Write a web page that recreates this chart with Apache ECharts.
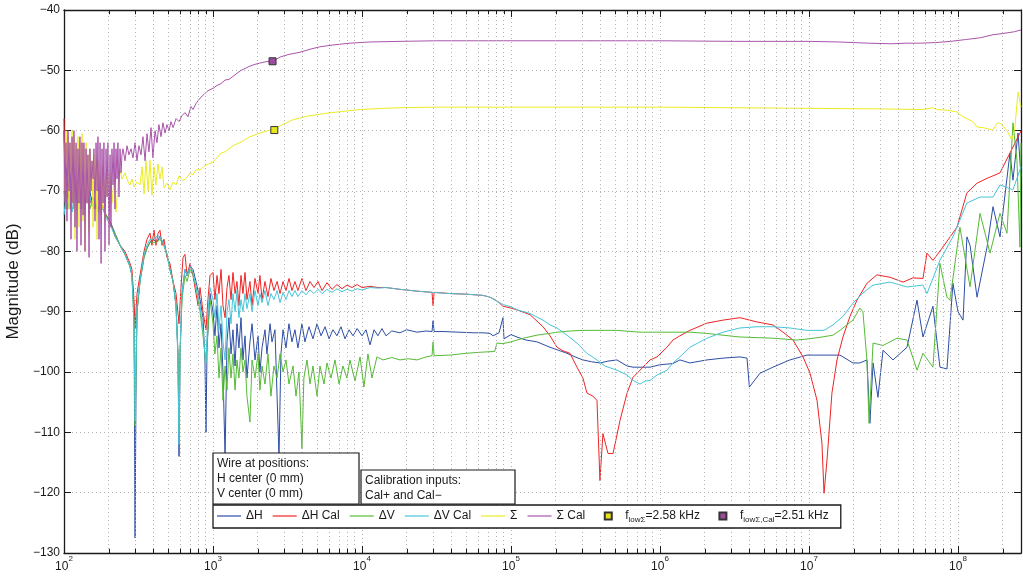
<!DOCTYPE html>
<html><head><meta charset="utf-8">
<script src="https://cdn.jsdelivr.net/npm/echarts@6/dist/echarts.min.js"></script>
<style>html,body{margin:0;padding:0;background:#fff}#c{width:1023px;height:577px}</style>
</head><body><div id="c"></div>
<script>
// x values are log10(frequency / Hz); y values are magnitude in dB
const xRange = [2, 8.423];
const yRange = [-130, -40];
const seriesNames = ['ΔH', 'ΔH Cal', 'ΔV', 'ΔV Cal', 'Σ', 'Σ Cal'];
const seriesColors = ['#2d4ea6', '#ee2424', '#55bb35', '#45c5da', '#ecec24', '#aa55aa'];

const dH = [[2.000,-60],[2.007,-68],[2.013,-66],[2.027,-70],[2.040,-67],[2.054,-72],[2.067,-69],[2.081,-71],[2.094,-68],[2.107,-72],[2.121,-70],[2.134,-73],[2.148,-70],[2.161,-72],[2.174,-70],[2.188,-72],[2.201,-71],[2.215,-73],[2.228,-71],[2.242,-72],[2.262,-72.5],[2.282,-74],[2.309,-75],[2.342,-77],[2.376,-79],[2.409,-80.5],[2.443,-82.5],[2.456,-84],[2.470,-90],[2.477,-127.5],[2.484,-100],[2.490,-90],[2.510,-85],[2.537,-81],[2.557,-79.5],[2.577,-78.5],[2.597,-78],[2.624,-78.5],[2.644,-77.5],[2.671,-79],[2.691,-80.5],[2.711,-83],[2.732,-85],[2.752,-89],[2.765,-97],[2.772,-114],[2.779,-97],[2.792,-87],[2.812,-83],[2.826,-84],[2.846,-82.5],[2.866,-83],[2.886,-85],[2.913,-88],[2.933,-91],[2.946,-98],[2.953,-110],[2.960,-96],[2.980,-87],[3.000,-90],[3.013,-94],[3.027,-89],[3.040,-96],[3.054,-92],[3.067,-100],[3.081,-114],[3.094,-95],[3.107,-91],[3.121,-97],[3.134,-93],[3.148,-99],[3.161,-92],[3.174,-96],[3.188,-91],[3.201,-98],[3.215,-94],[3.228,-101],[3.248,-95],[3.262,-92],[3.282,-98],[3.302,-94],[3.315,-100],[3.329,-96],[3.349,-93],[3.362,-97],[3.383,-92],[3.396,-95],[3.416,-93],[3.430,-104],[3.443,-114],[3.456,-97],[3.470,-93],[3.490,-96],[3.510,-92],[3.530,-95],[3.550,-93],[3.570,-96],[3.597,-92],[3.617,-95],[3.644,-92.5],[3.671,-94.5],[3.698,-92],[3.725,-94],[3.752,-92.5],[3.779,-94.5],[3.805,-93],[3.832,-94],[3.859,-92.5],[3.886,-94.5],[3.913,-93],[3.940,-94],[3.967,-92.8],[4.000,-94],[4.027,-93],[4.054,-95.5],[4.081,-93],[4.107,-94],[4.134,-92.8],[4.161,-94],[4.200,-93.2],[4.255,-93.5],[4.300,-93],[4.369,-93.4],[4.430,-93.2],[4.470,-93.3],[4.477,-91.5],[4.484,-93.3],[4.550,-93.3],[4.650,-93.4],[4.750,-93.5],[4.812,-93.5],[4.859,-93.6],[4.880,-94],[4.920,-93.5],[4.946,-91],[4.953,-94.5],[5.000,-93.8],[5.040,-94.2],[5.100,-94.7],[5.174,-95],[5.262,-95.9],[5.330,-96.5],[5.376,-96.9],[5.430,-97.5],[5.483,-98],[5.540,-98.3],[5.597,-98.5],[5.650,-98.2],[5.711,-98],[5.779,-99],[5.819,-99.2],[5.900,-99.2],[5.933,-99.2],[6.000,-98.8],[6.087,-98.6],[6.134,-98],[6.201,-98.5],[6.315,-98],[6.423,-97.7],[6.537,-97.5],[6.584,-97.7],[6.600,-102.5],[6.671,-100.2],[6.758,-99.2],[6.872,-98],[6.987,-97.2],[7.101,-97.2],[7.208,-97.2],[7.295,-98.5],[7.342,-98.5],[7.389,-98],[7.409,-108.5],[7.430,-98.5],[7.463,-104.2],[7.497,-96.4],[7.564,-98],[7.658,-95.9],[7.725,-88.1],[7.765,-94.2],[7.832,-89.1],[7.879,-99.2],[7.926,-99.5],[7.966,-85.3],[8.000,-90],[8.034,-91.4],[8.060,-77.6],[8.081,-79],[8.128,-87.6],[8.195,-79.3],[8.235,-72.6],[8.282,-77.6],[8.349,-63.7],[8.369,-68.2],[8.403,-60.4],[8.423,-67.5]];

const dHCal = [[2.000,-58],[2.007,-69],[2.013,-72],[2.027,-70],[2.040,-73],[2.054,-70],[2.067,-71],[2.081,-69],[2.094,-72],[2.107,-70],[2.121,-73],[2.134,-71],[2.148,-72],[2.161,-70],[2.174,-72],[2.188,-71],[2.201,-73],[2.215,-72],[2.228,-73],[2.242,-72],[2.262,-73],[2.282,-74],[2.309,-75],[2.342,-77.5],[2.376,-79],[2.409,-80],[2.443,-82],[2.456,-83],[2.470,-88],[2.477,-92.7],[2.490,-87],[2.510,-84],[2.537,-80],[2.557,-78],[2.577,-77],[2.590,-79],[2.604,-76.5],[2.617,-79],[2.631,-77],[2.644,-76.5],[2.658,-79],[2.671,-78],[2.691,-81],[2.711,-82],[2.732,-85],[2.752,-87],[2.772,-92],[2.785,-86],[2.799,-81],[2.812,-80.5],[2.826,-84],[2.846,-82],[2.866,-84],[2.886,-87],[2.900,-89],[2.913,-86],[2.933,-90],[2.953,-93],[2.966,-88],[2.980,-84],[3.000,-83.5],[3.013,-88],[3.027,-84],[3.040,-87],[3.054,-83],[3.067,-89],[3.081,-91],[3.094,-86],[3.107,-84],[3.121,-88],[3.134,-83.5],[3.148,-87],[3.161,-85],[3.174,-89],[3.188,-84],[3.201,-87],[3.215,-83.5],[3.228,-88],[3.248,-85],[3.262,-89],[3.282,-84.5],[3.302,-87],[3.315,-84],[3.329,-88],[3.349,-85],[3.369,-87.5],[3.389,-84.5],[3.409,-86.5],[3.430,-85],[3.450,-87],[3.470,-85],[3.490,-86.5],[3.510,-84.5],[3.530,-86.5],[3.550,-85],[3.570,-86.5],[3.597,-84.5],[3.624,-86.5],[3.651,-85],[3.678,-86],[3.705,-85],[3.732,-86.5],[3.765,-85.2],[3.799,-86.3],[3.832,-85.5],[3.866,-86.2],[3.899,-85.6],[3.933,-86],[3.967,-85.5],[4.000,-86],[4.054,-85.8],[4.107,-86],[4.161,-86],[4.255,-86.3],[4.369,-86.6],[4.470,-86.8],[4.477,-89],[4.484,-86.8],[4.591,-87],[4.698,-87.1],[4.812,-87.3],[4.859,-87.6],[4.906,-88.2],[4.946,-89.1],[5.000,-89.4],[5.040,-89.7],[5.128,-90.5],[5.215,-92.5],[5.262,-94],[5.309,-95.9],[5.350,-96.5],[5.396,-96.9],[5.443,-99.2],[5.483,-101],[5.510,-103.5],[5.550,-104],[5.577,-104.7],[5.597,-118],[5.617,-110.2],[5.651,-113.5],[5.685,-113.5],[5.732,-108],[5.779,-103.5],[5.819,-100.9],[5.866,-99.7],[5.933,-98],[5.980,-97.5],[6.047,-95.9],[6.087,-94.7],[6.134,-94],[6.201,-93.1],[6.315,-91.9],[6.423,-91.4],[6.537,-91],[6.651,-91.7],[6.758,-92.2],[6.826,-93.4],[6.893,-94.7],[6.960,-97.5],[7.007,-100.2],[7.054,-104.7],[7.087,-111.8],[7.101,-120.1],[7.121,-114.6],[7.154,-103.5],[7.188,-98],[7.228,-94.2],[7.275,-90.8],[7.322,-88.1],[7.389,-85.3],[7.456,-83.9],[7.544,-84.3],[7.631,-85.1],[7.698,-84.4],[7.765,-84.5],[7.792,-80.3],[7.832,-81.5],[7.899,-79.3],[7.993,-76],[8.060,-70.3],[8.128,-68.7],[8.195,-67.9],[8.282,-67],[8.349,-63.7],[8.416,-60.4],[8.423,-60]];

const dV = [[2.000,-70],[2.013,-73],[2.027,-69],[2.040,-72],[2.054,-70],[2.067,-73],[2.081,-71],[2.094,-72],[2.107,-70],[2.121,-73],[2.134,-71],[2.148,-72],[2.161,-71],[2.174,-73],[2.188,-71.5],[2.201,-72.5],[2.215,-72],[2.228,-73.5],[2.242,-72.5],[2.262,-73],[2.282,-74],[2.309,-75.5],[2.342,-77],[2.376,-79],[2.409,-80.5],[2.443,-82.5],[2.456,-84],[2.470,-92],[2.477,-109],[2.490,-90],[2.510,-85],[2.537,-81],[2.557,-79.5],[2.577,-78.5],[2.597,-78.5],[2.624,-78.5],[2.644,-78],[2.671,-79],[2.691,-80.5],[2.711,-83],[2.732,-85],[2.752,-89],[2.765,-97],[2.772,-110],[2.779,-97],[2.792,-88],[2.812,-84],[2.826,-85],[2.846,-83],[2.866,-84],[2.886,-86],[2.913,-90],[2.933,-94],[2.953,-98.5],[2.966,-93],[2.980,-88],[3.000,-92],[3.013,-97],[3.027,-94],[3.040,-101],[3.054,-96],[3.067,-104.7],[3.081,-99],[3.094,-103],[3.107,-96],[3.121,-101],[3.134,-97],[3.148,-103],[3.161,-98],[3.174,-101],[3.188,-96],[3.201,-100],[3.215,-98],[3.228,-104],[3.248,-108.3],[3.262,-98],[3.282,-101],[3.302,-97],[3.315,-103],[3.329,-99],[3.349,-102],[3.369,-97],[3.389,-104],[3.409,-99],[3.430,-101],[3.450,-97],[3.470,-100],[3.490,-98],[3.510,-102],[3.537,-99],[3.557,-104],[3.577,-100],[3.590,-108],[3.597,-112.7],[3.610,-101],[3.631,-98],[3.651,-102],[3.671,-99],[3.698,-104],[3.718,-99],[3.745,-102],[3.765,-98.5],[3.792,-101],[3.819,-98],[3.846,-102],[3.872,-99],[3.899,-101],[3.919,-98],[3.953,-101.5],[3.987,-97.5],[4.013,-102.5],[4.040,-97],[4.067,-101],[4.100,-97.5],[4.141,-98],[4.200,-97.6],[4.255,-98],[4.310,-97.8],[4.369,-98],[4.430,-97.5],[4.470,-97.3],[4.477,-95],[4.484,-97.3],[4.591,-97.2],[4.698,-96.9],[4.812,-96.7],[4.890,-96.6],[4.906,-95.2],[4.946,-95.3],[5.000,-95],[5.040,-94.7],[5.100,-94.3],[5.174,-93.9],[5.262,-93.6],[5.309,-93.4],[5.400,-93.2],[5.483,-93.1],[5.597,-93.1],[5.711,-93.1],[5.866,-93.4],[6.000,-93.4],[6.134,-93.4],[6.201,-93.4],[6.315,-93.6],[6.423,-93.9],[6.537,-94.2],[6.651,-94.3],[6.758,-94.4],[6.919,-94.7],[7.000,-94.5],[7.087,-94.2],[7.161,-93.9],[7.208,-93.1],[7.295,-91.4],[7.342,-89.4],[7.362,-90],[7.389,-98],[7.403,-108.5],[7.430,-95.2],[7.497,-95.6],[7.591,-94.4],[7.658,-94.7],[7.725,-99.7],[7.765,-96.9],[7.832,-99.2],[7.879,-82],[7.926,-87.6],[7.946,-88.1],[8.013,-76],[8.081,-85.9],[8.148,-73.7],[8.215,-80.3],[8.282,-73.7],[8.329,-77],[8.369,-58.7],[8.396,-64.9],[8.416,-79.3],[8.423,-62]];

const dVCal = [[2.000,-74],[2.013,-71],[2.027,-73],[2.040,-70],[2.054,-73.5],[2.067,-71],[2.081,-72],[2.094,-70.5],[2.107,-73],[2.121,-71],[2.134,-72.5],[2.148,-71],[2.161,-72],[2.174,-71],[2.188,-72.5],[2.201,-72],[2.215,-73],[2.228,-72.5],[2.242,-73],[2.262,-73],[2.282,-74.5],[2.309,-75.5],[2.342,-77.5],[2.376,-79],[2.409,-80.5],[2.443,-82.5],[2.456,-84],[2.470,-92],[2.477,-108],[2.490,-89],[2.510,-85],[2.537,-80.5],[2.557,-79],[2.577,-78],[2.597,-78],[2.624,-77.5],[2.644,-77.5],[2.671,-79],[2.691,-80.5],[2.711,-83],[2.732,-85],[2.752,-89],[2.765,-98],[2.772,-112],[2.779,-96],[2.792,-87],[2.812,-83],[2.826,-84],[2.846,-82.5],[2.866,-83.5],[2.886,-86],[2.913,-89],[2.933,-93],[2.946,-97],[2.953,-98.5],[2.966,-90],[2.980,-86],[3.000,-88],[3.013,-91],[3.027,-87],[3.040,-93],[3.054,-89],[3.067,-95],[3.081,-98],[3.094,-90],[3.107,-88],[3.121,-92],[3.134,-87],[3.148,-90],[3.161,-86.5],[3.174,-91],[3.188,-88],[3.201,-90],[3.215,-87],[3.228,-89.5],[3.248,-87],[3.262,-90],[3.282,-86.5],[3.302,-89],[3.315,-87],[3.329,-88.5],[3.349,-86.5],[3.369,-89],[3.389,-87],[3.409,-88],[3.430,-86.5],[3.450,-88.5],[3.470,-86.8],[3.490,-88],[3.510,-86.5],[3.530,-87.5],[3.550,-86.5],[3.570,-87.5],[3.597,-86.5],[3.624,-87.2],[3.651,-86.4],[3.678,-87],[3.705,-86.3],[3.732,-87],[3.765,-86.3],[3.799,-86.8],[3.832,-86.2],[3.866,-86.7],[3.899,-86.3],[3.933,-86.6],[3.967,-86.2],[4.000,-86.4],[4.054,-86],[4.107,-86.1],[4.161,-86],[4.255,-86.3],[4.369,-86.6],[4.470,-86.8],[4.591,-87],[4.698,-87.1],[4.812,-87.3],[4.859,-87.6],[4.906,-88.3],[4.946,-88.8],[5.000,-89.2],[5.040,-89.7],[5.128,-90.3],[5.215,-91.4],[5.262,-92.2],[5.309,-92.7],[5.376,-93.9],[5.443,-95.2],[5.510,-96.9],[5.577,-98],[5.630,-99],[5.711,-99.7],[5.779,-100.5],[5.819,-101.4],[5.866,-102],[5.900,-101.5],[5.933,-101.4],[5.980,-100.5],[6.047,-99.7],[6.087,-98.5],[6.134,-97.5],[6.201,-95.9],[6.315,-94.4],[6.423,-93.4],[6.537,-92.7],[6.651,-92.5],[6.758,-92.5],[6.872,-92.7],[6.987,-93.1],[7.101,-93.1],[7.161,-92.2],[7.228,-90.8],[7.295,-88.6],[7.362,-86.9],[7.430,-85.6],[7.544,-85.1],[7.658,-85.9],[7.765,-85.6],[7.792,-87],[7.879,-81.5],[7.966,-77.6],[8.060,-72],[8.148,-71],[8.235,-71],[8.282,-69],[8.369,-69.8],[8.423,-66]];

const sigma = [[2.000,-62],[2.007,-70],[2.013,-60],[2.020,-66],[2.027,-61],[2.034,-73],[2.040,-62],[2.047,-67],[2.054,-60],[2.061,-72],[2.067,-61],[2.074,-78],[2.081,-63],[2.087,-70],[2.094,-61],[2.101,-76],[2.107,-62],[2.114,-69],[2.121,-60.5],[2.128,-75],[2.134,-63],[2.141,-80],[2.148,-62],[2.154,-72],[2.161,-64],[2.168,-77],[2.174,-63],[2.181,-70],[2.188,-65],[2.195,-76],[2.201,-64],[2.208,-70],[2.215,-66],[2.222,-78],[2.228,-65],[2.235,-71],[2.242,-67],[2.249,-74],[2.255,-66],[2.262,-73],[2.268,-68],[2.275,-75],[2.282,-67],[2.289,-71],[2.295,-68],[2.302,-73],[2.309,-67],[2.322,-72],[2.336,-68],[2.349,-73.5],[2.362,-69],[2.376,-66.5],[2.389,-68],[2.409,-67],[2.430,-68.5],[2.443,-69],[2.456,-68],[2.470,-69.3],[2.490,-68.5],[2.510,-69],[2.524,-66],[2.537,-70.5],[2.550,-65],[2.564,-70],[2.577,-64.9],[2.590,-70.7],[2.604,-66],[2.617,-69],[2.631,-65.5],[2.644,-68],[2.658,-66],[2.671,-69.5],[2.691,-68.7],[2.711,-69.8],[2.732,-68.5],[2.752,-69],[2.772,-67.5],[2.799,-68.3],[2.826,-67.7],[2.846,-67],[2.866,-67.3],[2.886,-66.5],[2.913,-66.5],[2.946,-65.8],[2.980,-65.4],[3.000,-65.2],[3.027,-64.5],[3.054,-63.7],[3.081,-63.5],[3.094,-63.2],[3.134,-62.5],[3.161,-62.2],[3.188,-61.9],[3.248,-61],[3.315,-60.4],[3.383,-59.9],[3.403,-59.9],[3.450,-59.2],[3.537,-58.2],[3.631,-57.6],[3.765,-57.1],[3.872,-56.8],[3.987,-56.5],[4.141,-56.3],[4.255,-56.2],[4.500,-56.1],[5.000,-56.1],[5.500,-56.1],[6.000,-56.1],[6.500,-56.2],[7.000,-56.3],[7.500,-56.4],[7.765,-56.5],[7.830,-56.2],[7.860,-56.5],[7.926,-56.6],[7.993,-56.9],[8.034,-57.7],[8.060,-58],[8.100,-58.5],[8.128,-59.4],[8.170,-59.5],[8.235,-59.9],[8.260,-58.8],[8.282,-58.7],[8.329,-60],[8.360,-61.5],[8.380,-60],[8.403,-53.6],[8.423,-56.1]];

const sigmaCal = [[2.000,-60],[2.007,-72],[2.013,-62],[2.020,-75],[2.027,-60],[2.034,-70],[2.040,-62],[2.047,-78],[2.054,-61],[2.061,-72],[2.067,-60],[2.074,-76],[2.081,-62],[2.087,-80],[2.094,-63],[2.101,-72],[2.107,-61],[2.114,-79],[2.121,-62],[2.128,-74],[2.134,-62],[2.141,-80],[2.148,-63],[2.154,-72],[2.161,-64],[2.168,-81],[2.174,-63],[2.181,-70],[2.188,-65],[2.195,-68],[2.201,-63],[2.208,-75],[2.215,-62],[2.222,-70],[2.228,-61],[2.235,-78],[2.242,-62],[2.249,-82],[2.255,-63],[2.262,-72],[2.268,-62],[2.275,-80],[2.282,-63],[2.289,-71],[2.295,-62],[2.302,-79],[2.309,-64],[2.315,-76],[2.322,-63],[2.329,-69],[2.336,-62],[2.342,-73],[2.349,-63],[2.356,-68],[2.362,-62],[2.369,-71],[2.376,-63],[2.383,-67],[2.389,-64],[2.396,-63],[2.409,-65],[2.423,-62.5],[2.436,-64],[2.450,-63],[2.463,-64.5],[2.477,-62],[2.490,-65],[2.503,-62.5],[2.517,-64],[2.530,-61],[2.544,-65],[2.557,-60.5],[2.570,-63.5],[2.584,-59.5],[2.597,-64.5],[2.611,-60],[2.624,-62],[2.637,-59],[2.651,-61],[2.664,-58.7],[2.678,-60.4],[2.691,-59],[2.705,-60],[2.718,-58.5],[2.732,-59.5],[2.752,-58],[2.772,-58.5],[2.792,-57.5],[2.812,-57],[2.832,-57.7],[2.852,-56],[2.866,-56.5],[2.886,-55.5],[2.913,-54.6],[2.940,-54],[2.960,-53.5],[2.980,-53.2],[3.000,-53],[3.027,-52.5],[3.054,-52.2],[3.081,-51.6],[3.107,-51.5],[3.134,-51],[3.161,-50.5],[3.188,-50],[3.215,-49.7],[3.248,-49.3],[3.282,-49],[3.315,-48.8],[3.349,-48.6],[3.383,-48.5],[3.400,-48.5],[3.450,-47.8],[3.503,-47.4],[3.584,-47],[3.651,-46.5],[3.718,-46.1],[3.805,-45.8],[3.919,-45.5],[4.054,-45.3],[4.255,-45.2],[4.500,-45.1],[5.000,-45.1],[5.500,-45.1],[6.000,-45.1],[6.500,-45.2],[7.000,-45.2],[7.200,-45.3],[7.400,-45.5],[7.550,-45.6],[7.650,-45.5],[7.750,-45.5],[7.850,-45.4],[7.950,-45.2],[8.050,-44.9],[8.150,-44.6],[8.235,-44.1],[8.300,-43.9],[8.380,-43.6],[8.423,-43.3]];

// cut-off frequency markers (Hz, dB)
const markerFreqHz = [2580, 2510];
const markerDb = [-59.9, -48.5];
const markerNames = ['fLowSigma', 'fLowSigmaCal'];
const markerColors = ['#e8e41e', '#9c4c9c'];

const FONT = 'Liberation Sans';
const allData = [dH, dHCal, dV, dVCal, sigma, sigmaCal];

// minor (log-decade) grid positions
const minorGrid = [];
for (let n = 2; n <= 8; n++) for (let k = 2; k <= 9; k++) {
  const v = n + Math.log10(k);
  if (v < xRange[1]) minorGrid.push(v);
}

const gridLine = { color: '#b0b0b0', type: [1, 3], width: 1 };
const INK = '#1a1a1a';

const series = seriesNames.map((nm, i) => ({
  name: nm, type: 'line', data: allData[i], symbol: 'none', showSymbol: false,
  lineStyle: { color: seriesColors[i], width: 1 }, itemStyle: { color: seriesColors[i] },
  z: 2 + i * 0.01, animation: false
}));
// minor grid lines and minor ticks (bottom and top edges)
const minorTickLen = 0.7;
series.unshift({
  name: 'minorGrid', type: 'line', data: [], silent: true, z: 1,
  markLine: { silent: true, symbol: 'none', animation: false, label: { show: false },
    lineStyle: gridLine, data: minorGrid.map(v => ({ xAxis: v })) }
});
series.push({
  name: 'minorTicks', type: 'line', data: [], silent: true, z: 8,
  markLine: { silent: true, symbol: 'none', animation: false, label: { show: false },
    lineStyle: { color: INK, type: 'solid', width: 1 },
    data: minorGrid.map(v => [{ coord: [v, yRange[0]] }, { coord: [v, yRange[0] + minorTickLen] }])
      .concat(minorGrid.map(v => [{ coord: [v, yRange[1]] }, { coord: [v, yRange[1] - minorTickLen] }])) }
});
markerNames.forEach((nm, i) => series.push({
  name: nm, type: 'scatter', symbol: 'rect', symbolSize: 7,
  data: [[Math.log10(markerFreqHz[i]), markerDb[i]]],
  itemStyle: { color: markerColors[i], borderColor: '#333', borderWidth: 1, opacity: 1 }, z: 6
}));

const legendLabels = {
  'ΔH': '{n|ΔH}', 'ΔH Cal': '{n|ΔH Cal}', 'ΔV': '{n|ΔV}', 'ΔV Cal': '{n|ΔV Cal}',
  'Σ': '{n|Σ}', 'Σ Cal': '{n|Σ Cal}',
  'fLowSigma': '{n|f}{s|lowΣ}{n|=2.58 kHz}',
  'fLowSigmaCal': '{n|f}{s|lowΣ,Cal}{n|=2.51 kHz}'
};
// legend icons: thin line inside a 24x8 box; small square for the markers
const lineIcon = 'path://M0,3.4 L24,3.4 L24,4.6 L0,4.6 Z M0,0 M24,8';
const squareIcon = 'path://M8.5,0.5 L15.5,0.5 L15.5,7.5 L8.5,7.5 Z M0,0 M24,8';
const legendData = seriesNames.map(n => ({ name: n, icon: lineIcon, itemStyle: { borderWidth: 0 } }))
  .concat(markerNames.map(n => ({ name: n, icon: squareIcon })));

const axisCommonX = { type: 'value', min: xRange[0], max: xRange[1], interval: 1 };
const axisCommonY = { type: 'value', min: yRange[0], max: yRange[1], interval: 10 };
const frameLine = { show: true, onZero: false, lineStyle: { color: INK, width: 1.3 } };
const tickIn = { show: true, inside: true, length: 7, lineStyle: { color: INK, width: 1 } };

const option = {
  animation: false,
  backgroundColor: '#fff',
  grid: { left: 64, top: 10, right: 2, bottom: 24, containLabel: false, outerBoundsMode: 'none' },
  xAxis: [
    Object.assign({}, axisCommonX, {
      position: 'bottom', axisLine: frameLine, axisTick: tickIn,
      splitLine: { show: true, lineStyle: gridLine },
      axisLabel: {
        margin: 2, color: INK, fontFamily: FONT,
        formatter: v => Math.abs(v - Math.round(v)) < 1e-6 ? '{b|10}{e|' + Math.round(v) + '}' : '',
        rich: {
          b: { fontSize: 12, fontFamily: FONT, color: INK, lineHeight: 18, verticalAlign: 'bottom' },
          e: { fontSize: 8, fontFamily: FONT, color: INK, lineHeight: 18, verticalAlign: 'top' }
        }
      }
    }),
    Object.assign({}, axisCommonX, {
      position: 'top', axisLine: frameLine, axisTick: tickIn,
      splitLine: { show: false }, axisLabel: { show: false }
    })
  ],
  yAxis: [
    Object.assign({}, axisCommonY, {
      position: 'left', axisLine: frameLine, axisTick: tickIn,
      splitLine: { show: true, lineStyle: gridLine },
      axisLabel: { margin: 4, fontSize: 12, fontFamily: FONT, color: INK,
        formatter: v => String(v).replace('-', '\u2212') },
      name: 'Magnitude (dB)', nameLocation: 'middle', nameGap: 37,
      nameTextStyle: { fontSize: 17, fontFamily: FONT, color: INK }
    }),
    Object.assign({}, axisCommonY, {
      position: 'right', axisLine: frameLine, axisTick: tickIn,
      splitLine: { show: false }, axisLabel: { show: false }
    })
  ],
  legend: {
    left: 213, top: 505, orient: 'horizontal',
    data: legendData,
    itemWidth: 24, itemHeight: 8, itemGap: 10,
    padding: [5, 12, 4, 4],
    backgroundColor: '#fff', borderColor: INK, borderWidth: 1.3, borderRadius: 0,
    selectedMode: false, z: 20,
    formatter: name => legendLabels[name],
    textStyle: {
      fontFamily: FONT, fontSize: 12, color: INK,
      rich: {
        n: { fontFamily: FONT, fontSize: 12, color: INK, lineHeight: 16, verticalAlign: 'middle' },
        s: { fontFamily: FONT, fontSize: 8, color: INK, lineHeight: 16, verticalAlign: 'bottom' }
      }
    }
  },
  graphic: [
    { type: 'rect', z: 30, shape: { x: 213, y: 453, width: 146, height: 51 },
      style: { fill: '#fff', stroke: INK, lineWidth: 1.2 } },
    { type: 'text', z: 31, left: 217, top: 456,
      style: { text: 'Wire at positions:\nH center (0 mm)\nV center (0 mm)', fontFamily: FONT, fontSize: 12, lineHeight: 15, fill: INK } },
    { type: 'rect', z: 30, shape: { x: 361, y: 470, width: 154, height: 34 },
      style: { fill: '#fff', stroke: INK, lineWidth: 1.2 } },
    { type: 'text', z: 31, left: 365, top: 473,
      style: { text: 'Calibration inputs:\nCal+ and Cal\u2212', fontFamily: FONT, fontSize: 12, lineHeight: 15, fill: INK } }
  ],
  series: series
};

const chart = echarts.init(document.getElementById('c'), null, { renderer: 'canvas' });
chart.setOption(option);
</script>
</body></html>
